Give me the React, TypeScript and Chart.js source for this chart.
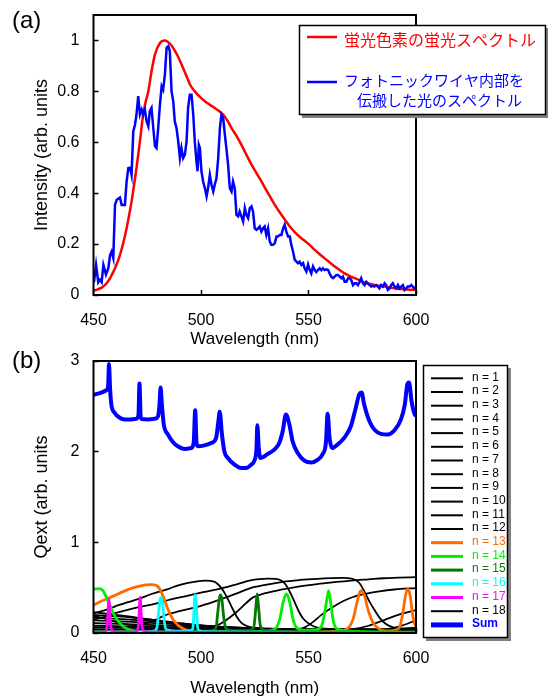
import { useEffect, useRef } from 'react';
import { Chart, registerables } from 'chart.js';

Chart.register(...registerables);

type P = [number, number][];

const FONT = '"Liberation Sans", Arial, Helvetica, sans-serif';
const JP_FONT = '"Noto Sans CJK JP", "Noto Sans", sans-serif';

// ---- axes ----
const xTicks = [450, 500, 550, 600];
const topYTicks = [0, 0.2, 0.4, 0.6, 0.8, 1];
const bottomYTicks = [0, 1, 2, 3];

// ---- text ----
const xTitle = 'Wavelength (nm)';
const topYTitle = 'Intensity (arb. units';
const bottomYTitle = 'Qext (arb. units';
const dyeLabel = '蛍光色素の蛍光スペクトル';
const wireLabel1 = 'フォトニックワイヤ内部を';
const wireLabel2 = '伝搬した光のスペクトル';

// ---- panel (a): spectra ----
const dyeSpectrum: P = [
  [450, 0.017], [452, 0.022], [454, 0.03], [456, 0.045], [457.7, 0.066], [460, 0.105],
  [462.3, 0.157], [464, 0.21], [465.4, 0.262], [466.6, 0.315], [467.7, 0.367], [469, 0.44],
  [470, 0.499], [471.6, 0.604], [473.1, 0.709], [474.3, 0.76], [475.5, 0.8], [477, 0.879],
  [478.6, 0.945], [480.9, 0.99], [483, 1.0], [484.5, 0.995], [486.1, 0.982], [487.8, 0.96],
  [489.4, 0.935], [491.5, 0.895], [493.5, 0.855], [495, 0.825], [497.1, 0.8], [499, 0.782],
  [501.8, 0.761], [504, 0.748], [506.4, 0.735], [508.5, 0.722], [510.3, 0.709], [512.3, 0.685],
  [514.2, 0.656], [516.5, 0.625], [518.8, 0.59], [521, 0.553], [523.5, 0.512], [525.8, 0.479],
  [528.1, 0.446], [530.5, 0.41], [532.7, 0.378], [535, 0.345], [537.4, 0.315], [539.7, 0.288],
  [542, 0.262], [545, 0.235], [548.2, 0.213], [550.5, 0.197], [552.9, 0.177], [555.2, 0.16],
  [557.5, 0.144], [560, 0.127], [562.2, 0.112], [564.5, 0.098], [566.8, 0.085], [569, 0.075],
  [571.5, 0.066], [574, 0.057], [576.1, 0.049], [578.5, 0.044], [580.7, 0.039], [583, 0.036],
  [585.4, 0.033], [588, 0.029], [590, 0.026], [592.5, 0.024], [594.7, 0.022], [597, 0.021],
  [600, 0.02],
];

const wireSpectrum: P = [
  [450.2, 0.05], [451.2, 0.118], [452.2, 0.05], [453.0, 0.06], [453.8, 0.05], [454.6, 0.118],
  [455.8, 0.08], [456.9, 0.105], [457.7, 0.157], [458.4, 0.17], [459.2, 0.145], [460.0, 0.354],
  [460.8, 0.374], [462.3, 0.383], [463.1, 0.354], [464.6, 0.354], [465.4, 0.446], [466.2, 0.499],
  [467.0, 0.5], [467.7, 0.472], [468.5, 0.643], [469.3, 0.669], [470.0, 0.709], [470.8, 0.781],
  [471.6, 0.709], [472.4, 0.728], [473.1, 0.709], [473.9, 0.728], [474.7, 0.682], [475.5, 0.663],
  [476.2, 0.722], [477.0, 0.735], [477.8, 0.656], [478.6, 0.584], [479.3, 0.577], [480.1, 0.656],
  [480.9, 0.748], [481.7, 0.82], [482.4, 0.807], [483.2, 0.866], [484.0, 0.971], [484.8, 0.978],
  [485.5, 0.958], [486.3, 0.8], [487.1, 0.761], [487.8, 0.682], [488.6, 0.656], [489.4, 0.604],
  [490.2, 0.538], [490.9, 0.577], [491.7, 0.538], [492.5, 0.551], [493.3, 0.604], [494.0, 0.735],
  [494.8, 0.787], [495.6, 0.787], [496.4, 0.709], [497.1, 0.604], [497.9, 0.525], [498.4, 0.486],
  [499.0, 0.59], [499.5, 0.577], [500.2, 0.486], [501.0, 0.446], [501.8, 0.42], [502.6, 0.387],
  [503.3, 0.42], [504.1, 0.472], [504.9, 0.433], [505.7, 0.407], [506.4, 0.433], [507.2, 0.459],
  [508.0, 0.538], [508.8, 0.656], [509.5, 0.709], [510.3, 0.696], [511.1, 0.63], [511.8, 0.577],
  [512.6, 0.512], [513.4, 0.42], [514.2, 0.407], [514.9, 0.446], [515.7, 0.42], [516.5, 0.315],
  [517.3, 0.309], [518.0, 0.328], [518.8, 0.309], [519.6, 0.289], [520.4, 0.341], [521.1, 0.315],
  [521.9, 0.302], [522.7, 0.341], [523.5, 0.348], [524.2, 0.328], [525.0, 0.262], [525.8, 0.256],
  [526.6, 0.262], [527.3, 0.269], [528.1, 0.249], [528.9, 0.262], [529.6, 0.269], [530.4, 0.236],
  [531.2, 0.262], [532.0, 0.21], [532.7, 0.197], [533.5, 0.197], [534.3, 0.203], [535.1, 0.23],
  [535.8, 0.23], [536.6, 0.236], [537.4, 0.236], [538.2, 0.262], [538.9, 0.276], [539.7, 0.249],
  [540.5, 0.23], [541.3, 0.23], [542.0, 0.197], [542.8, 0.171], [543.6, 0.138], [544.4, 0.131],
  [545.1, 0.125], [545.9, 0.131], [546.7, 0.118], [547.5, 0.125], [548.2, 0.105], [549.0, 0.092],
  [549.8, 0.12], [550.5, 0.1], [551.3, 0.085], [552.1, 0.112], [552.9, 0.098], [553.6, 0.09],
  [554.4, 0.098], [555.2, 0.105], [556.0, 0.098], [556.7, 0.105], [557.5, 0.098], [558.3, 0.101],
  [559.1, 0.098], [559.8, 0.085], [560.6, 0.072], [561.4, 0.066], [562.2, 0.072], [563.0, 0.079],
  [563.7, 0.079], [564.5, 0.072], [565.3, 0.066], [566.0, 0.072], [566.8, 0.052], [567.6, 0.052],
  [568.4, 0.066], [569.1, 0.066], [569.9, 0.059], [570.7, 0.039], [571.5, 0.046], [572.2, 0.046],
  [573.0, 0.039], [573.8, 0.052], [574.5, 0.066], [575.3, 0.046], [576.1, 0.039], [576.9, 0.052],
  [577.6, 0.046], [578.4, 0.039], [579.2, 0.033], [580.0, 0.036], [580.7, 0.033], [581.5, 0.039],
  [582.3, 0.033], [583.0, 0.026], [583.8, 0.039], [584.6, 0.033], [585.4, 0.046], [586.1, 0.039],
  [586.9, 0.02], [587.7, 0.026], [588.5, 0.039], [589.2, 0.046], [590.0, 0.033], [590.8, 0.026],
  [591.6, 0.039], [592.3, 0.026], [593.1, 0.033], [593.9, 0.039], [594.7, 0.02], [595.4, 0.026],
  [596.2, 0.033], [597.0, 0.033], [597.8, 0.039], [598.5, 0.033], [599.3, 0.026], [600, 0.03],
];

// ---- panel (b): Qext per mode ----
const n1: P = [[450, 0.025], [525, 0.022], [600, 0.02]];
const n2: P = [[450, 0.04], [500, 0.035], [550, 0.03], [600, 0.028]];
const n3: P = [[450, 0.06], [500, 0.047], [550, 0.038], [600, 0.035]];
const n4: P = [[450, 0.08], [480, 0.066], [510, 0.052], [550, 0.04], [580, 0.038], [600, 0.05]];
const n5: P = [[450, 0.11], [475, 0.09], [500, 0.068], [530, 0.048], [560, 0.036], [585, 0.035], [600, 0.06]];
const n6: P = [[450, 0.14], [470, 0.12], [490, 0.095], [510, 0.068], [530, 0.045], [555, 0.03], [575, 0.025], [585, 0.035], [592, 0.07], [600, 0.14]];
const n7: P = [[450, 0.17], [465, 0.15], [480, 0.125], [495, 0.095], [510, 0.068], [530, 0.045], [550, 0.032], [562, 0.028], [570, 0.04], [578, 0.08], [586, 0.15], [593, 0.21], [600, 0.252]];
const n8: P = [[450, 0.2], [460, 0.185], [470, 0.165], [480, 0.14], [490, 0.11], [500, 0.082], [510, 0.06], [520, 0.045], [530, 0.035], [538, 0.032], [544, 0.04], [548, 0.06], [552, 0.12], [556, 0.2], [561, 0.281], [566, 0.35], [571, 0.4], [577, 0.435], [583, 0.46], [590, 0.48], [600, 0.496]];
const n9: P = [[450, 0.23], [460, 0.2], [470, 0.17], [480, 0.135], [490, 0.1], [497, 0.075], [503, 0.068], [507, 0.08], [511, 0.13], [516, 0.22], [521, 0.33], [524, 0.39], [530, 0.44], [538, 0.48], [546, 0.515], [554, 0.54], [562, 0.56], [570, 0.578], [578, 0.592], [585, 0.604], [592, 0.61], [600, 0.617]];
const n10: P = [[450, 0.19], [455, 0.16], [460, 0.125], [465, 0.095], [470, 0.085], [475, 0.11], [480, 0.16], [484.6, 0.207], [490, 0.24], [494, 0.263], [500, 0.3], [509.4, 0.374], [517, 0.44], [523, 0.495], [530, 0.53], [538, 0.565], [546, 0.585], [554, 0.598], [561, 0.605], [566, 0.607], [570, 0.6], [572.5, 0.575], [574, 0.54], [575.5, 0.48], [577, 0.41], [578.5, 0.34], [580, 0.281], [583, 0.17], [586, 0.1], [589.3, 0.062], [594, 0.048], [600, 0.042]];
const n11: P = [[450, 0.15], [454, 0.17], [458.3, 0.207], [464, 0.245], [470, 0.28], [478.4, 0.32], [486, 0.37], [494, 0.411], [501, 0.45], [509.4, 0.493], [517, 0.54], [523, 0.58], [527, 0.595], [531, 0.6], [535, 0.597], [537.5, 0.575], [539.5, 0.53], [541.3, 0.455], [543, 0.37], [544.5, 0.29], [546, 0.215], [547.5, 0.16], [550.6, 0.096], [553.7, 0.062], [560, 0.045], [580, 0.038], [600, 0.035]];
const n12: P = [[450, 0.215], [453, 0.235], [456.7, 0.263], [462, 0.31], [466, 0.34], [470.7, 0.374], [477, 0.43], [484.6, 0.485], [489, 0.522], [494, 0.553], [498, 0.568], [501.6, 0.578], [504.5, 0.576], [506.5, 0.562], [508, 0.535], [509.5, 0.495], [511, 0.44], [512.5, 0.374], [514, 0.3], [515.6, 0.226], [517, 0.165], [518.7, 0.115], [521, 0.08], [523.3, 0.062], [528, 0.05], [540, 0.045], [570, 0.04], [600, 0.038]];
const n13: P = [[450, 0.307], [453, 0.345], [456.7, 0.381], [460, 0.415], [462.9, 0.448], [466, 0.478], [469.1, 0.504], [472, 0.52], [474.5, 0.53], [476.5, 0.533], [478.4, 0.53], [480.3, 0.504], [482.3, 0.41], [484.6, 0.263], [486.9, 0.152], [489.3, 0.085], [492.3, 0.04], [495.4, 0.022], [505, 0.012], [530, 0.01], [555, 0.012], [563, 0.02], [567.6, 0.04], [570.7, 0.15], [572.2, 0.3], [573.8, 0.448], [574.5, 0.467], [575.3, 0.45], [576.1, 0.41], [577.6, 0.263], [580, 0.115], [583.1, 0.04], [586.5, 0.022], [590, 0.03], [592.3, 0.06], [593.9, 0.226], [595.1, 0.41], [596.2, 0.493], [597.3, 0.41], [598.5, 0.19], [599.8, 0.078], [600, 0.075]];
const n14: P = [[450, 0.485], [452.9, 0.49], [454.4, 0.467], [456.7, 0.356], [459.1, 0.226], [461.4, 0.133], [464.5, 0.059], [467.6, 0.03], [475, 0.015], [500, 0.01], [525, 0.012], [532, 0.025], [535.1, 0.06], [536.6, 0.15], [538.2, 0.337], [539.7, 0.43], [541.3, 0.337], [542.8, 0.152], [544.4, 0.06], [548, 0.03], [553, 0.035], [556, 0.07], [557.5, 0.226], [558.6, 0.374], [559.4, 0.467], [560.3, 0.337], [561.4, 0.152], [563, 0.05], [567, 0.025], [580, 0.012], [600, 0.01]];
const n15: P = [[450, 0.015], [480, 0.012], [500, 0.015], [505, 0.025], [507, 0.06], [507.8, 0.226], [508.6, 0.39], [509.1, 0.42], [509.7, 0.374], [510.5, 0.19], [511.4, 0.06], [514, 0.025], [521, 0.025], [524.5, 0.06], [525.4, 0.25], [526.1, 0.43], [526.8, 0.28], [527.6, 0.08], [530, 0.025], [545, 0.012], [600, 0.008]];
const n16: P = [[450, 0.008], [475, 0.012], [478, 0.02], [479.5, 0.06], [480.3, 0.226], [481, 0.374], [481.5, 0.393], [482.1, 0.337], [483, 0.115], [484, 0.035], [490, 0.02], [495, 0.025], [496.2, 0.05], [496.7, 0.226], [497, 0.374], [497.3, 0.42], [497.8, 0.337], [498.2, 0.115], [498.8, 0.03], [503, 0.015], [530, 0.008], [600, 0.005]];
const n17: P = [[450, 0.005], [455, 0.01], [456.2, 0.05], [456.7, 0.2], [457.2, 0.374], [457.7, 0.2], [458.2, 0.05], [460, 0.01], [469.5, 0.01], [470.7, 0.05], [471.2, 0.2], [471.7, 0.393], [472.2, 0.2], [472.7, 0.05], [475, 0.01], [600, 0.004]];
const n18: P = [[450, 0.012], [600, 0.008]];
const qextSum: P = [
  [450, 2.626], [453.6, 2.652], [456, 2.678], [456.8, 2.72], [457.2, 2.967], [457.7, 2.7], [458.3, 2.52],
  [459.8, 2.43], [462.2, 2.374], [464.5, 2.356], [467.6, 2.356], [469.9, 2.363], [470.9, 2.4], [471.4, 2.752],
  [471.9, 2.4], [472.5, 2.36], [475.3, 2.356], [478.4, 2.363], [480, 2.39], [480.7, 2.52], [481.2, 2.707],
  [481.8, 2.52], [482.7, 2.3], [484.6, 2.19], [486.9, 2.107], [489.2, 2.06], [492.3, 2.03], [495.4, 2.04],
  [496.6, 2.1], [497.3, 2.456], [497.9, 2.1], [498.5, 2.06], [501.6, 2.07], [504.7, 2.096], [507, 2.15],
  [508.1, 2.337], [508.7, 2.44], [509.7, 2.2], [510.9, 2.0], [512.5, 1.93], [515.6, 1.856], [518.7, 1.82],
  [521, 1.82], [523.3, 1.856], [524.8, 1.9], [525.8, 2.03], [526.2, 2.29], [526.9, 2.03], [527.6, 1.93],
  [531, 1.974], [534.1, 2.022], [536.4, 2.096], [538, 2.226], [539.5, 2.41], [541.1, 2.3], [542.6, 2.115],
  [545, 1.985], [548.1, 1.9], [551.2, 1.88], [554.2, 1.91], [556.6, 1.974], [558.1, 2.1], [558.9, 2.418],
  [559.8, 2.15], [560.9, 2.04], [563.5, 2.078], [566.6, 2.152], [569.7, 2.28], [572, 2.485], [573.6, 2.633],
  [574.7, 2.652], [575.9, 2.52], [578.3, 2.337], [580.6, 2.244], [583.7, 2.196], [586.8, 2.189], [589.9, 2.233],
  [593, 2.356], [594.8, 2.52], [596, 2.744], [596.8, 2.763], [597.9, 2.56], [599.1, 2.43], [600, 2.39],
];

const modeLabels = ['n = 1', 'n = 2', 'n = 3', 'n = 4', 'n = 5', 'n = 6', 'n = 7', 'n = 8', 'n = 9',
  'n = 10', 'n = 11', 'n = 12', 'n = 13', 'n = 14', 'n = 15', 'n = 16', 'n = 17', 'n = 18', 'Sum'];
const modeSeries: P[] = [n1, n2, n3, n4, n5, n6, n7, n8, n9, n10, n11, n12, n13, n14, n15, n16, n17, n18, qextSum];
const modeColors = ['#000', '#000', '#000', '#000', '#000', '#000', '#000', '#000', '#000', '#000', '#000', '#000',
  '#FF6A00', '#00EE00', '#007A00', '#00FFFF', '#FF00FF', '#000', '#0000FF'];
const modeWidths = [1.8, 1.8, 1.8, 1.8, 1.8, 1.8, 1.8, 1.8, 1.8, 1.8, 1.8, 1.8, 2.8, 2.8, 2.8, 2.8, 2.8, 1.8, 4];

const toXY = (p: P) => p.map(([x, y]) => ({ x, y }));

function xAxis(height: number, titlePad: number) {
  return {
    type: 'linear', min: 450, max: 600, position: 'bottom',
    afterBuildTicks: (s: any) => { s.ticks = xTicks.map((value) => ({ value })); },
    afterFit: (s: any) => { s.height = height; s.paddingLeft = 0; s.paddingRight = 0; },
    ticks: { color: '#000', font: { family: FONT, size: 16 }, padding: 21.4, maxRotation: 0, autoSkip: false,
      callback: (v: any) => String(v) },
    grid: { drawOnChartArea: false, drawTicks: true, tickLength: -5, tickColor: '#000', tickWidth: 1.5, color: '#000' },
    border: { display: false },
    title: { display: true, text: xTitle, color: '#000', font: { family: FONT, size: 17 }, padding: { top: 0, bottom: titlePad } },
  };
}

function yAxis(max: number, ticks: number[], title: string) {
  return {
    type: 'linear', min: 0, max,
    afterBuildTicks: (s: any) => { s.ticks = ticks.map((value) => ({ value })); },
    afterFit: (s: any) => { s.width = 93.5; s.paddingTop = 0; s.paddingBottom = 0; },
    ticks: { color: '#000', font: { family: FONT, size: 16 }, padding: 19,
      callback: (v: any) => String(Math.round(Number(v) * 10) / 10) },
    grid: { drawOnChartArea: false, drawTicks: true, tickLength: -5, tickColor: '#000', tickWidth: 1.5, color: '#000' },
    border: { display: false },
    title: { display: true, text: title, color: '#000', font: { family: FONT, size: 18 }, padding: { top: 31.2, bottom: 0 } },
  };
}

const framePlugin = {
  id: 'frame',
  afterDatasetsDraw(chart: any) {
    const { ctx, chartArea: a } = chart;
    ctx.save();
    ctx.strokeStyle = '#000';
    ctx.lineWidth = 2;
    ctx.strokeRect(a.left, a.top, a.right - a.left, a.bottom - a.top);
    ctx.restore();
  },
};

function panelLabel(text: string, y: number) {
  return {
    id: 'panel' + text,
    afterDraw(chart: any) {
      const ctx = chart.ctx;
      ctx.save();
      ctx.fillStyle = '#000';
      ctx.font = `24px ${FONT}`;
      ctx.textBaseline = 'middle';
      ctx.textAlign = 'left';
      ctx.fillText(text, 12, y);
      ctx.restore();
    },
  };
}

const topLegend = {
  id: 'topLegend',
  afterDraw(chart: any) {
    const ctx = chart.ctx;
    ctx.save();
    ctx.fillStyle = '#808080';
    ctx.fillRect(302, 28, 246, 90);
    ctx.fillStyle = '#fff';
    ctx.fillRect(299, 25, 247, 90);
    ctx.strokeStyle = '#000';
    ctx.lineWidth = 1.5;
    ctx.strokeRect(299.5, 25.5, 246, 89);
    ctx.lineWidth = 2.5;
    ctx.strokeStyle = '#FF0000';
    ctx.beginPath(); ctx.moveTo(307, 37); ctx.lineTo(337, 37); ctx.stroke();
    ctx.strokeStyle = '#0000FF';
    ctx.beginPath(); ctx.moveTo(307, 82); ctx.lineTo(337, 82); ctx.stroke();
    ctx.textBaseline = 'middle';
    ctx.textAlign = 'left';
    ctx.font = `16px ${JP_FONT}`;
    ctx.fillStyle = '#FF0000';
    ctx.fillText(dyeLabel, 344, 40);
    ctx.font = `15px ${JP_FONT}`;
    ctx.fillStyle = '#0000FF';
    ctx.fillText(wireLabel1, 344, 80);
    ctx.fillText(wireLabel2, 357, 100);
    ctx.restore();
  },
};

const textColors = ['#000', '#000', '#000', '#000', '#000', '#000', '#000', '#000', '#000', '#000', '#000', '#000',
  '#FF6A00', '#00EE00', '#007A00', '#00FFFF', '#FF00FF', '#000', '#0000FF'];

const bottomLegend = {
  id: 'bottomLegend',
  afterDraw(chart: any) {
    const ctx = chart.ctx;
    ctx.save();
    ctx.fillStyle = '#808080';
    ctx.fillRect(426, 18, 85, 273);
    ctx.fillStyle = '#fff';
    ctx.fillRect(423, 15, 85, 273);
    ctx.strokeStyle = '#000';
    ctx.lineWidth = 1.5;
    ctx.strokeRect(423.5, 15.5, 84, 272);
    ctx.textBaseline = 'middle';
    ctx.textAlign = 'left';
    modeLabels.forEach((label, i) => {
      const y = 28.3 + i * 13.7;
      const w = i === 18 ? 5 : (i >= 12 && i <= 16 ? 3 : 2);
      ctx.strokeStyle = modeColors[i];
      ctx.lineWidth = w;
      ctx.beginPath(); ctx.moveTo(431, y); ctx.lineTo(463, y); ctx.stroke();
      ctx.fillStyle = textColors[i];
      ctx.font = i === 18 ? `bold 12px ${FONT}` : `12px ${FONT}`;
      ctx.fillText(label, 472, y - 1);
    });
    ctx.restore();
  },
};

function topConfig(): any {
  return {
    type: 'line',
    data: {
      datasets: [
        { data: toXY(wireSpectrum), borderColor: '#0000FF', borderWidth: 2.5, pointRadius: 0, tension: 0, fill: false },
        { data: toXY(dyeSpectrum), borderColor: '#FF0000', borderWidth: 2.5, pointRadius: 0, cubicInterpolationMode: 'monotone', fill: false },
      ],
    },
    options: {
      animation: false, responsive: false, devicePixelRatio: 1,
      layout: { padding: { top: 15, right: 132, left: 0, bottom: 0 } },
      plugins: { legend: { display: false }, tooltip: { enabled: false } },
      scales: { x: xAxis(55, 0.8), y: yAxis(1.1, topYTicks, topYTitle) },
    },
    plugins: [framePlugin, topLegend, panelLabel('(a)', 21)],
  };
}

function bottomConfig(): any {
  const order = [18, 16, 15, 14, 13, 12, 17, 11, 10, 9, 8, 7, 6, 5, 4, 3, 2, 1, 0];
  return {
    type: 'line',
    data: {
      datasets: order.map((i) => ({
        label: modeLabels[i],
        data: toXY(modeSeries[i]),
        borderColor: modeColors[i],
        borderWidth: modeWidths[i],
        pointRadius: 0,
        cubicInterpolationMode: 'monotone',
        fill: false,
      })),
    },
    options: {
      animation: false, responsive: false, devicePixelRatio: 1,
      layout: { padding: { top: 11, right: 132, left: 0, bottom: 0 } },
      plugins: { legend: { display: false }, tooltip: { enabled: false } },
      scales: { x: xAxis(67, 1.8), y: yAxis(3, bottomYTicks, bottomYTitle) },
    },
    plugins: [framePlugin, bottomLegend, panelLabel('(b)', 11)],
  };
}

function ChartCanvas({ make, top, height }: { make: () => any; top: number; height: number }) {
  const ref = useRef<HTMLCanvasElement>(null);
  useEffect(() => {
    const chart = new Chart(ref.current as HTMLCanvasElement, make());
    return () => chart.destroy();
  }, []);
  return (
    <canvas ref={ref} width={548} height={height}
      style={{ position: 'absolute', left: 0, top, width: 548, height, display: 'block' }} />
  );
}

export default function App() {
  return (
    <div style={{ position: 'absolute', left: 0, top: 0, width: 548, height: 700, background: '#fff', overflow: 'hidden' }}>
      <ChartCanvas make={topConfig} top={0} height={350} />
      <ChartCanvas make={bottomConfig} top={350} height={350} />
    </div>
  );
}
